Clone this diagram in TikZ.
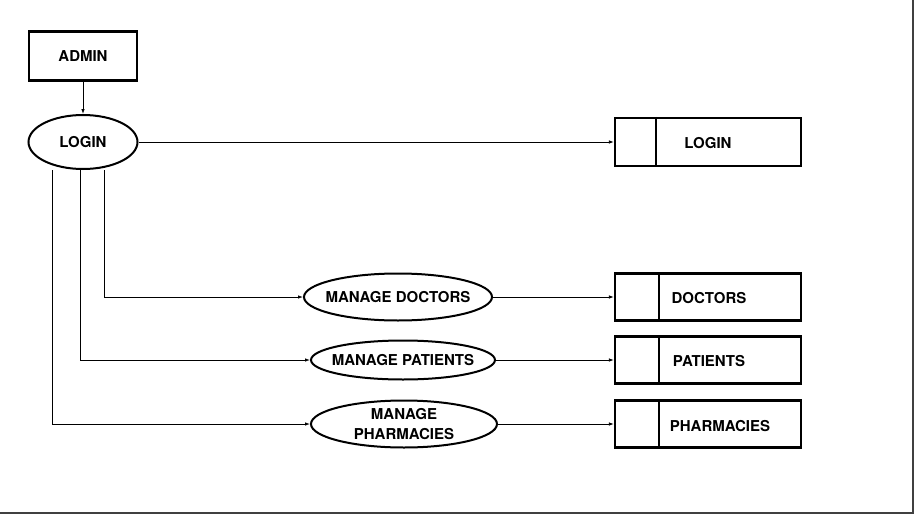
\documentclass[tikz,border=0pt]{standalone}
\usepackage{fontspec}
\setmainfont{TeX Gyre Heros}
\usetikzlibrary{arrows.meta,shapes.geometric}

\tikzset{
  actor/.style={draw,line width=2.6pt,minimum width=108pt,minimum height=49pt,inner sep=0pt},
  task/.style={draw,ellipse,line width=2pt,inner ysep=0pt,inner xsep=-15pt,align=center},
  store/.style={draw,line width=2.2pt,minimum width=186pt,minimum height=47pt,inner sep=0pt},
  conn/.style={line width=0.8pt,-{Latex[length=5pt,width=3.5pt]}},
  link/.style={line width=0.8pt},
}

\begin{document}
\begin{tikzpicture}[x=1pt,y=-1pt,font=\fontsize{15}{19.5}\selectfont\bfseries]
            \useasboundingbox (0,0) rectangle (918,522);
            \draw[line width=1.5pt,color=darkgray] (0,513) -- (913,513) -- (913,0);

            % admin and login
            \node[actor] (admin) at (83,56) {ADMIN};
            \node[task,minimum width=109pt,minimum height=54pt] (login) at (83,142) {LOGIN};
            \draw[conn] (admin) -- (login);

            % the three tasks
            \node[task,minimum width=188pt,minimum height=47pt] (mdoc) at (398,297) {MANAGE DOCTORS};
            \node[task,minimum width=184pt,minimum height=39pt] (mpat) at (403,360) {MANAGE PATIENTS};
            \node[task,minimum width=186pt,minimum height=47pt] (mpha) at (404,424) {MANAGE\\PHARMACIES};

            % stores
            \node[store,minimum height=48pt] (loginstore) at (708,142) {};
            \node[store] (docstore) at (708,297) {};
            \node[store] (patstore) at (708,360) {};
            \node[store] (phastore) at (708,424) {};
            \draw[line width=2pt] ([xshift=42pt]loginstore.north west) -- ([xshift=42pt]loginstore.south west);
            \draw[line width=2pt] ([xshift=45pt]docstore.north west) -- ([xshift=45pt]docstore.south west);
            \draw[line width=2pt] ([xshift=45pt]patstore.north west) -- ([xshift=45pt]patstore.south west);
            \draw[line width=2pt] ([xshift=45pt]phastore.north west) -- ([xshift=45pt]phastore.south west);
            \node (logintxt) at (708,143) {LOGIN};
            \node (doctxt) at (709,298) {DOCTORS};
            \node (pattxt) at (709,361) {PATIENTS};
            \node (phatxt) at (720,426) {PHARMACIES};

            % connectors
            \draw[conn] (login) -- (loginstore);
            \draw[conn] ([xshift=21pt]login.south) |- (mdoc);
            \draw[conn] ([xshift=-3pt]login.south) |- (mpat);
            \draw[conn] ([xshift=-31pt]login.south) |- (mpha);
            \draw[conn] (mdoc) -- (docstore);
            \draw[conn] (mpat) -- (patstore);
            \draw[conn] (mpha) -- (phastore);
\end{tikzpicture}
\end{document}
